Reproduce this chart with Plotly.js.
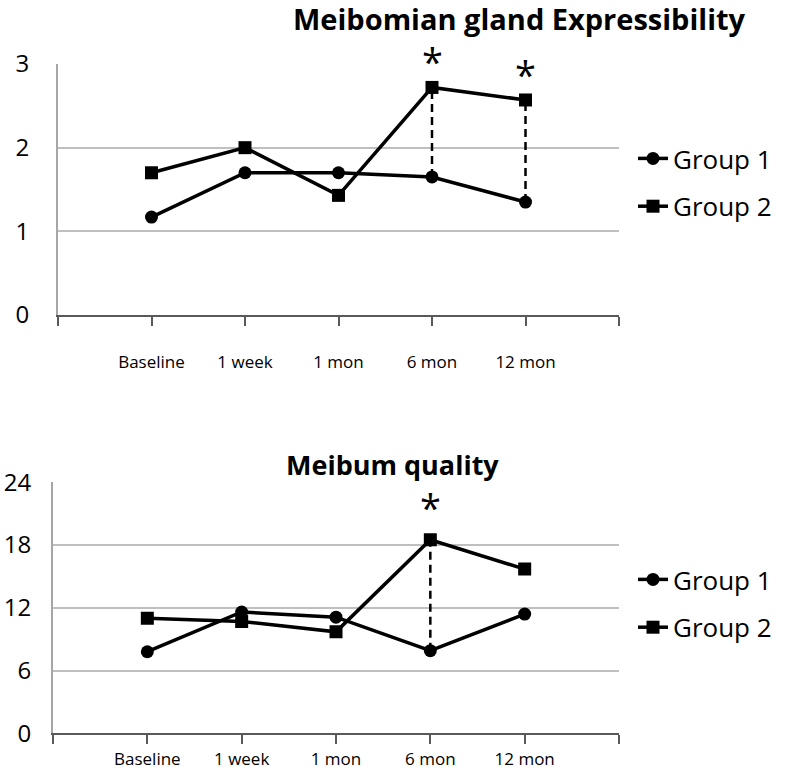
<!DOCTYPE html>
<html>
<head>
<meta charset="utf-8">
<script src="https://cdn.plot.ly/plotly-3.0.1.min.js"></script>
<style>html,body{margin:0;padding:0;background:#fff;}#chart{width:786px;height:773px;}</style>
</head>
<body>
<div id="chart"></div>
<script>
// ---- data ----
const categories = ["Baseline", "1 week", "1 mon", "6 mon", "12 mon"];
const expressG1 = [1.17, 1.70, 1.70, 1.65, 1.35];
const expressG2 = [1.70, 2.00, 1.43, 2.72, 2.57];
const qualityG1 = [7.8, 11.6, 11.1, 7.9, 11.4];
const qualityG2 = [11.0, 10.7, 9.7, 18.5, 15.7];
const expressSig = [3, 4];   // category indexes marked significant
const qualitySig = [3];
const titleTop = "Meibomian gland Expressibility";
const titleBottom = "Meibum quality";
const seriesNames = ["Group 1", "Group 2"];

const W = 786, H = 773;
const FONT = "Open Sans, Noto Sans, sans-serif";
const xpos = categories.map((c, i) => i + 1);
const tickvals = [0].concat(xpos, [categories.length + 1]);
const ticktext = [""].concat(categories, [""]);

function groupTraces(g1, g2, sig, xa, ya, leg) {
  const tr = [];
  sig.forEach(i => {
    tr.push({x: [xpos[i], xpos[i]], y: [g1[i], g2[i]], xaxis: xa, yaxis: ya,
      mode: "lines", line: {color: "#000", width: 2.5, dash: "8px,5px"},
      showlegend: false, hoverinfo: "skip"});
  });
  tr.push({x: xpos, y: g1, name: seriesNames[0], xaxis: xa, yaxis: ya, legend: leg,
    legendgroup: leg + "a", mode: "lines+markers",
    line: {color: "#000", width: 3.5}, marker: {symbol: "circle", size: 13, color: "#000"}});
  tr.push({x: xpos, y: g2, name: seriesNames[1], xaxis: xa, yaxis: ya, legend: leg,
    legendgroup: leg + "b", mode: "lines+markers",
    line: {color: "#000", width: 3.5}, marker: {symbol: "square", size: 13, color: "#000"}});
  return tr;
}

const data = [].concat(
  groupTraces(expressG1, expressG2, expressSig, "x", "y", "legend"),
  groupTraces(qualityG1, qualityG2, qualitySig, "x2", "y2", "legend2")
);

function xaxis(d0, d1, anchor, standoff) {
  return {domain: [d0 / W, d1 / W], anchor: anchor, range: [0, categories.length + 1],
    tickmode: "array", tickvals: tickvals, ticktext: ticktext,
    ticks: "outside", ticklen: 9, tickwidth: 2, tickcolor: "#595959",
    showline: true, linecolor: "#595959", linewidth: 2,
    showgrid: false, zeroline: false, ticklabelstandoff: standoff,
    tickfont: {family: FONT, size: 17, color: "#000"}, fixedrange: true};
}
function yaxis(top, bottom, anchor, maxv, dt, standoff) {
  return {domain: [1 - bottom / H, 1 - top / H], anchor: anchor, range: [0, maxv], dtick: dt,
    tickmode: "linear", tick0: 0,
    showgrid: true, gridcolor: "#bfbfbf", gridwidth: 2,
    showline: true, linecolor: "#a6a6a6", linewidth: 2, zeroline: false,
    ticks: "", ticklabelstandoff: standoff,
    tickfont: {family: FONT, size: 24, color: "#000"}, fixedrange: true};
}

const annotations = [
  {xref: "paper", yref: "paper", x: 519 / W, y: 1 - 19 / H, xanchor: "center", yanchor: "middle",
   text: "<b>" + titleTop + "</b>", showarrow: false, font: {family: FONT, size: 29, color: "#000"}},
  {xref: "paper", yref: "paper", x: 392 / W, y: 1 - 464 / H, xanchor: "center", yanchor: "middle",
   text: "<b>" + titleBottom + "</b>", showarrow: false, font: {family: FONT, size: 27, color: "#000"}}
];
expressSig.forEach(i => annotations.push({xref: "x", yref: "y", x: xpos[i], y: expressG2[i],
  text: "*", showarrow: false, yanchor: "middle", yshift: 26, font: {family: FONT, size: 38, color: "#000"}}));
qualitySig.forEach(i => annotations.push({xref: "x2", yref: "y2", x: xpos[i], y: qualityG2[i],
  text: "*", showarrow: false, yanchor: "middle", yshift: 33, font: {family: FONT, size: 38, color: "#000"}}));

const legendBase = {xref: "paper", yref: "paper", xanchor: "left", yanchor: "top",
  font: {family: FONT, size: 26, color: "#000"}, tracegroupgap: 11, bgcolor: "rgba(0,0,0,0)",
  itemwidth: 30};

const layout = {
  width: W, height: H, margin: {l: 0, r: 0, t: 0, b: 0},
  paper_bgcolor: "#fff", plot_bgcolor: "#fff",
  font: {family: FONT, color: "#000"},
  xaxis: xaxis(58, 619, "y", 22),
  yaxis: yaxis(64, 315, "x", 3, 1, 22),
  xaxis2: xaxis(53, 619, "y2", 0),
  yaxis2: yaxis(482.3, 733.3, "x2", 24, 6, 15),
  legend: Object.assign({}, legendBase, {x: 633 / W, y: 1 - 135 / H}),
  legend2: Object.assign({}, legendBase, {x: 633 / W, y: 1 - 556 / H}),
  annotations: annotations,
  showlegend: true
};

Plotly.newPlot("chart", data, layout, {displayModeBar: false, staticPlot: true});
</script>
</body>
</html>
